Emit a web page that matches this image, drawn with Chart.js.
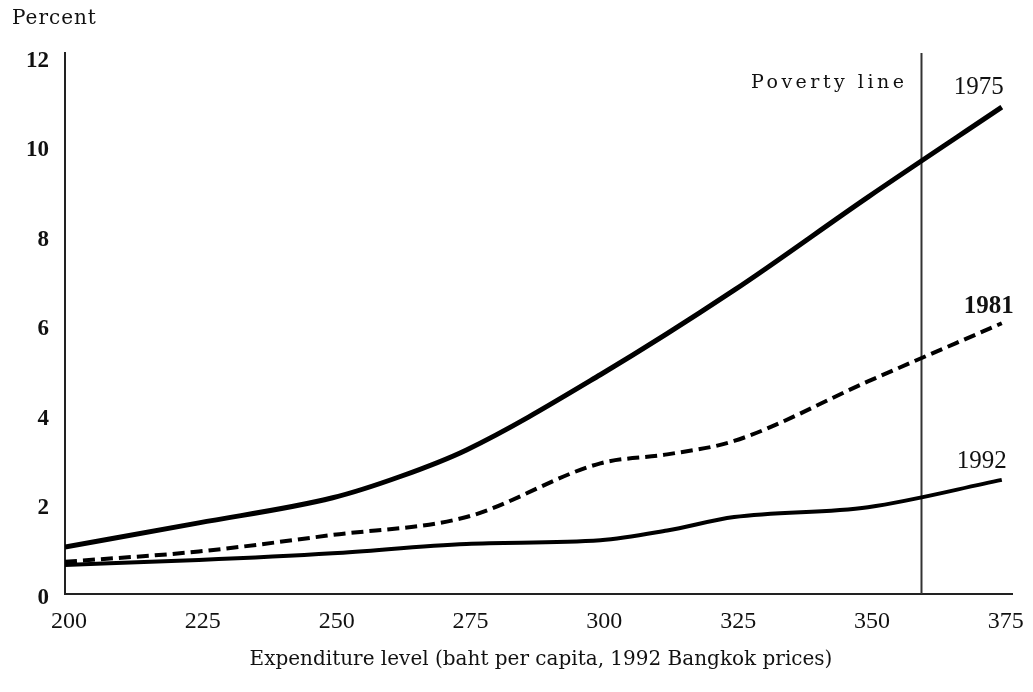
<!DOCTYPE html>
<html>
<head>
<meta charset="utf-8">
<script src="https://cdn.jsdelivr.net/npm/chart.js@4.4.0/dist/chart.umd.min.js"></script>
<style>
  html, body { margin: 0; padding: 0; background: #fff; }
  canvas { display: block; }
</style>
</head>
<body>
<canvas id="povChart" width="1033" height="692"></canvas>
<script>
// expenditure levels (baht per capita) and percent of population
const xTicks = [200, 225, 250, 275, 300, 325, 350, 375];
const yTicks = [0, 2, 4, 6, 8, 10, 12];
const povertyLine = 360;

const x1975 = [200, 225, 250, 262.5, 275, 300, 325, 350, 375];
const y1975 = [1.05, 1.59, 2.15, 2.62, 3.22, 4.9, 6.79, 8.87, 10.88];

const x1981 = [200, 225, 250, 275, 300, 312.5, 325, 350, 375];
const y1981 = [0.72, 0.95, 1.32, 1.72, 2.92, 3.12, 3.42, 4.75, 6.05];

const x1992 = [200, 225, 250, 275, 300, 312.5, 325, 350, 375];
const y1992 = [0.65, 0.76, 0.91, 1.12, 1.2, 1.42, 1.72, 1.94, 2.55];

const toPts = (xs, ys) => xs.map((x, i) => ({ x: x, y: ys[i] }));

// text labels drawn onto the chart
const labelPlugin = {
  id: 'labels',
  afterDraw(chart) {
    const ctx = chart.ctx;
    const xs = chart.scales.x, ys = chart.scales.y;
    ctx.save();
    ctx.fillStyle = '#111';
    ctx.textBaseline = 'middle';

    ctx.font = '20px "DejaVu Serif"';
    ctx.textAlign = 'center';
    ctx.fillText('Expenditure level (baht per capita, 1992 Bangkok prices)', 541, 660);

    ctx.textAlign = 'left';
    ctx.letterSpacing = '1px';
    ctx.fillText('Percent', 12, 19);

    ctx.font = '19px "DejaVu Serif"';
    ctx.textAlign = 'right';
    ctx.letterSpacing = '3.5px';
    ctx.fillText('Poverty line', xs.getPixelForValue(povertyLine) - 14, 83);
    ctx.letterSpacing = '0px';

    ctx.font = '25px "Liberation Serif"';
    ctx.fillText('1975', xs.getPixelForValue(375) + 2, ys.getPixelForValue(y1975[y1975.length - 1]) - 20);
    ctx.font = 'bold 25px "Liberation Serif"';
    ctx.fillText('1981', xs.getPixelForValue(375) + 12, ys.getPixelForValue(y1981[y1981.length - 1]) - 17);
    ctx.font = '25px "Liberation Serif"';
    ctx.fillText('1992', xs.getPixelForValue(375) + 5, ys.getPixelForValue(y1992[y1992.length - 1]) - 18);
    ctx.restore();
  }
};

new Chart(document.getElementById('povChart'), {
  type: 'line',
  data: {
    datasets: [
      { label: '1975', data: toPts(x1975, y1975), borderColor: '#000', borderWidth: 5,
        cubicInterpolationMode: 'monotone', pointRadius: 0 },
      { label: '1981', data: toPts(x1981, y1981), borderColor: '#000', borderWidth: 4,
        borderDash: [12, 6], cubicInterpolationMode: 'monotone', pointRadius: 0 },
      { label: '1992', data: toPts(x1992, y1992), borderColor: '#000', borderWidth: 4,
        cubicInterpolationMode: 'monotone', pointRadius: 0 },
      { label: 'Poverty line', data: [{ x: povertyLine, y: 0 }, { x: povertyLine, y: 12.09 }],
        borderColor: '#333', borderWidth: 2, pointRadius: 0 }
    ]
  },
  options: {
    responsive: false,
    animation: false,
    layout: { padding: { top: 53, right: 19, left: 0, bottom: 0 } },
    plugins: { legend: { display: false }, tooltip: { enabled: false } },
    scales: {
      x: {
        type: 'linear', min: 200, max: 377,
        afterBuildTicks: s => { s.ticks = xTicks.map(v => ({ value: v })); },
        afterFit: s => { s.height = 98; },
        grid: { display: false, drawTicks: false },
        border: { display: true, color: '#222', width: 2 },
        ticks: { color: '#111', padding: 13, labelOffset: 4,
                 font: { family: 'Liberation Serif', size: 24 } }
      },
      y: {
        min: 0, max: 12.09,
        afterBuildTicks: s => { s.ticks = yTicks.map(v => ({ value: v })); },
        afterFit: s => { s.width = 65; },
        grid: { display: false, drawTicks: false },
        border: { display: true, color: '#222', width: 2 },
        ticks: { color: '#111', padding: 16, labelOffset: 4,
                 font: { family: 'Liberation Serif', size: 23, weight: 'bold' } }
      }
    }
  },
  plugins: [labelPlugin]
});
</script>
</body>
</html>
